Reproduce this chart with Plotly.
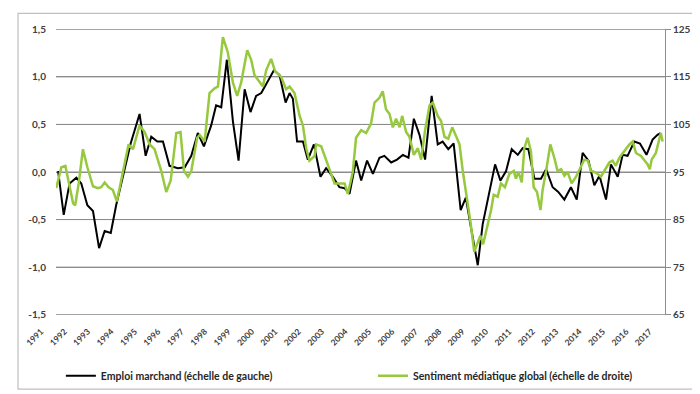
import plotly.graph_objects as go

# ---- data (decimal years) ----
black_t = [1991.09, 1991.33, 1991.58, 1991.87, 1992.08, 1992.34, 1992.58, 1992.84, 1993.08, 1993.34,
           1993.57, 1993.86, 1994.19, 1994.57, 1994.83, 1995.07, 1995.33, 1995.57, 1995.85, 1996.21,
           1996.50, 1996.78, 1997.06, 1997.32, 1997.63, 1997.84, 1998.06, 1998.30, 1998.56, 1998.80,
           1999.06, 1999.31, 1999.55, 1999.77, 2000.05, 2000.31, 2000.55, 2000.81, 2000.98, 2001.12,
           2001.30, 2001.55, 2001.76, 2002.02, 2002.30, 2002.54, 2002.83, 2003.11, 2003.33, 2003.54,
           2003.82, 2004.04, 2004.29, 2004.54, 2004.82, 2005.03, 2005.32, 2005.57, 2005.82, 2006.06,
           2006.29, 2006.53, 2006.77, 2007.05, 2007.31, 2007.52, 2007.76, 2007.99, 2008.29, 2008.51,
           2008.72, 2009.02, 2009.23, 2009.47, 2009.76, 2009.99, 2010.23, 2010.47, 2010.73, 2010.94,
           2011.18, 2011.44, 2011.72, 2011.94, 2012.22, 2012.46, 2012.72, 2013.00, 2013.25, 2013.50,
           2013.75, 2014.00, 2014.22, 2014.50, 2014.71, 2015.00, 2015.21, 2015.42, 2015.71, 2015.95,
           2016.23, 2016.49, 2016.70, 2016.83]
black_v = [0.01, -0.45, -0.12, -0.06, -0.12, -0.35, -0.41, -0.80, -0.62, -0.64,
           -0.35, -0.05, 0.30, 0.61, 0.17, 0.37, 0.32, 0.32, 0.065, 0.04,
           0.05, 0.17, 0.41, 0.27, 0.49, 0.70, 0.68, 1.18, 0.53, 0.12,
           0.87, 0.63, 0.80, 0.83, 0.95, 1.07, 1.02, 0.73, 0.83, 0.77,
           0.32, 0.32, 0.13, 0.29, -0.05, 0.04, -0.05, -0.16, -0.17, -0.23,
           0.12, -0.09, 0.12, -0.02, 0.15, 0.17, 0.10, 0.13, 0.18, 0.15,
           0.56, 0.39, 0.13, 0.80, 0.29, 0.32, 0.24, 0.30, -0.40, -0.27,
           -0.57, -0.98, -0.55, -0.26, 0.08, -0.09, 0.01, 0.24, 0.18, 0.25,
           0.24, -0.07, -0.07, 0.03, -0.16, -0.21, -0.29, -0.16, -0.29, 0.20,
           0.12, -0.14, -0.04, -0.29, 0.08, -0.05, 0.18, 0.17, 0.32, 0.30,
           0.18, 0.34, 0.39, 0.41]

green_t = [1991.01, 1991.23, 1991.40, 1991.54, 1991.73, 1991.82, 1991.97, 1992.15, 1992.34, 1992.58,
           1992.79, 1992.93, 1993.08, 1993.25, 1993.43, 1993.60, 1993.79, 1994.10, 1994.29, 1994.57,
           1994.79, 1995.00, 1995.21, 1995.50, 1995.71, 1995.90, 1996.14, 1996.32, 1996.47, 1996.64,
           1996.78, 1997.03, 1997.14, 1997.35, 1997.56, 1997.78, 1997.92, 1998.13, 1998.34, 1998.56,
           1998.74, 1998.91, 1999.17, 1999.34, 1999.48, 1999.70, 1999.84, 1999.98, 2000.19, 2000.36,
           2000.62, 2000.83, 2000.98, 2001.19, 2001.41, 2001.55, 2001.69, 2001.83, 2002.05, 2002.11,
           2002.33, 2002.61, 2002.90, 2003.11, 2003.33, 2003.47, 2003.68, 2003.82, 2004.04, 2004.25,
           2004.46, 2004.61, 2004.82, 2004.96, 2005.10, 2005.25, 2005.39, 2005.53, 2005.68, 2005.79,
           2005.96, 2006.10, 2006.29, 2006.46, 2006.60, 2006.77, 2006.96, 2007.10, 2007.31, 2007.45,
           2007.60, 2007.76, 2007.93, 2008.09, 2008.24, 2008.38, 2008.56, 2008.71, 2008.87, 2009.02,
           2009.13, 2009.25, 2009.42, 2009.59, 2009.70, 2009.87, 2010.01, 2010.18, 2010.37, 2010.56,
           2010.65, 2010.76, 2010.90, 2011.01, 2011.15, 2011.29, 2011.41, 2011.55, 2011.70, 2011.79,
           2011.94, 2012.12, 2012.29, 2012.43, 2012.58, 2012.72, 2012.86, 2013.03, 2013.22, 2013.40,
           2013.57, 2013.72, 2013.86, 2014.00, 2014.14, 2014.28, 2014.43, 2014.64, 2014.78, 2014.92,
           2015.07, 2015.28, 2015.50, 2015.64, 2015.78, 2015.99, 2016.14, 2016.28, 2016.37, 2016.45,
           2016.63, 2016.84, 2016.92]
green_v = [91.6, 96.0, 96.3, 93.2, 88.4, 88.0, 92.6, 99.8, 96.0, 92.0,
           91.6, 91.8, 92.8, 91.8, 91.2, 88.8, 93.2, 100.8, 99.8, 104.8,
           103.4, 100.8, 99.8, 95.2, 90.8, 93.2, 103.2, 103.4, 95.2, 94.0,
           95.2, 102.2, 102.8, 101.4, 111.6, 112.6, 113.0, 123.4, 120.2, 113.8,
           111.0, 113.8, 120.6, 118.6, 115.4, 114.0, 113.0, 116.4, 118.8, 116.2,
           115.0, 112.4, 113.0, 111.6, 106.8, 104.8, 100.0, 97.4, 98.4, 100.8,
           100.4, 96.6, 92.6, 92.6, 92.6, 90.4, 95.0, 102.2, 103.8, 103.2,
           105.2, 109.6, 110.6, 112.0, 108.2, 107.2, 104.4, 106.2, 104.4, 106.8,
           103.4, 102.4, 98.6, 100.0, 97.6, 103.8, 109.0, 109.6, 106.8, 105.8,
           102.4, 102.0, 104.4, 102.6, 100.8, 95.2, 89.8, 84.4, 78.2, 80.4,
           81.6, 79.8, 83.6, 87.0, 90.2, 89.8, 92.6, 91.8, 94.6, 95.2,
           93.6, 95.0, 92.8, 100.0, 102.2, 99.4, 91.8, 90.8, 87.0, 91.2,
           95.2, 100.8, 98.0, 95.2, 95.6, 94.2, 95.0, 92.6, 94.0, 96.0,
           97.6, 97.4, 95.2, 95.0, 94.6, 94.0, 95.2, 97.0, 97.4, 96.3,
           98.0, 99.4, 100.8, 101.4, 99.0, 98.4, 97.4, 96.6, 95.6, 97.6,
           99.0, 103.2, 101.4]

years = list(range(1991, 2018))
year_labels = [str(y) for y in years]
left_ticks = [-1.5, -1.0, -0.5, 0.0, 0.5, 1.0, 1.5]
left_labels = ["-1,5", "-1,0", "-0,5", "0,0", "0,5", "1,0", "1,5"]
right_ticks = [65, 75, 85, 95, 105, 115, 125]
right_labels = ["65", "75", "85", "95", "105", "115", "125"]

name_black = "Emploi marchand (échelle de gauche)"
name_green = "Sentiment médiatique global (échelle de droite)"

FONT = "Lato"
TXT = "#404040"
GRID = "#8c8c8c"
X_RANGE = [1991, 2017.02]

# gridline trace built from the left-axis tick values (x ends = axis range)
grid_x, grid_y = [], []
for v in left_ticks:
    grid_x += [X_RANGE[0], X_RANGE[1], None]
    grid_y += [v, v, None]

fig = go.Figure()
fig.add_trace(go.Scatter(x=grid_x, y=grid_y, mode="lines", showlegend=False, hoverinfo="skip",
                         line=dict(color=GRID, width=1), cliponaxis=False))
fig.add_trace(go.Scatter(x=black_t, y=black_v, mode="lines", name=name_black, showlegend=True,
                         line=dict(color="#000000", width=2), legend="legend"))
fig.add_trace(go.Scatter(x=green_t, y=green_v, mode="lines", name=name_green, yaxis="y2", showlegend=True,
                         line=dict(color="#96c93d", width=2.5), legend="legend2"))

border = dict(type="rect", xref="paper", yref="paper",
              x0=-0.0624, x1=1.0575, y0=-0.259, y1=1.0546,
              line=dict(color="#c0c0c0", width=1.2), fillcolor="rgba(0,0,0,0)", layer="above")

fig.update_layout(
    width=700, height=394,
    margin=dict(l=48, r=43, t=21, b=80),
    showlegend=True,
    paper_bgcolor="white", plot_bgcolor="rgba(0,0,0,0)",
    font=dict(family=FONT, size=10, color=TXT),
    xaxis=dict(range=X_RANGE, tickvals=years, ticktext=year_labels, tickangle=-45,
               showgrid=False, zeroline=False, showline=False, ticks="",
               ticklabelshift=-15, ticklabelstandoff=9,
               tickfont=dict(family=FONT, size=8.5, color=TXT, weight="bold")),
    yaxis=dict(range=[-1.503, 1.503], tickvals=left_ticks, ticktext=left_labels,
               showgrid=True, gridcolor=GRID, gridwidth=1, zeroline=False, showline=False,
               ticks="outside", ticklen=7, tickcolor="rgba(255,255,255,0)",
               tickfont=dict(family=FONT, size=10, color=TXT, weight="bold")),
    yaxis2=dict(range=[64.91, 125.09], tickvals=right_ticks, ticktext=right_labels,
                overlaying="y", side="right", showgrid=False,
                zeroline=False, showline=True, linecolor=GRID, linewidth=1,
                ticks="outside", ticklen=5, tickcolor=GRID,
                tickfont=dict(family=FONT, size=10, color=TXT, weight="bold")),
    legend=dict(orientation="h", x=0.008, y=-0.212, xanchor="left", yanchor="middle",
                font=dict(family=FONT, size=10.5, color="#262626", weight="bold"),
                bgcolor="rgba(0,0,0,0)", itemwidth=30),
    legend2=dict(orientation="h", x=0.5205, y=-0.212, xanchor="left", yanchor="middle",
                 font=dict(family=FONT, size=10.5, color="#262626", weight="bold"),
                 bgcolor="rgba(0,0,0,0)", itemwidth=30),
    shapes=[border],
)

fig.write_html("out.html")
